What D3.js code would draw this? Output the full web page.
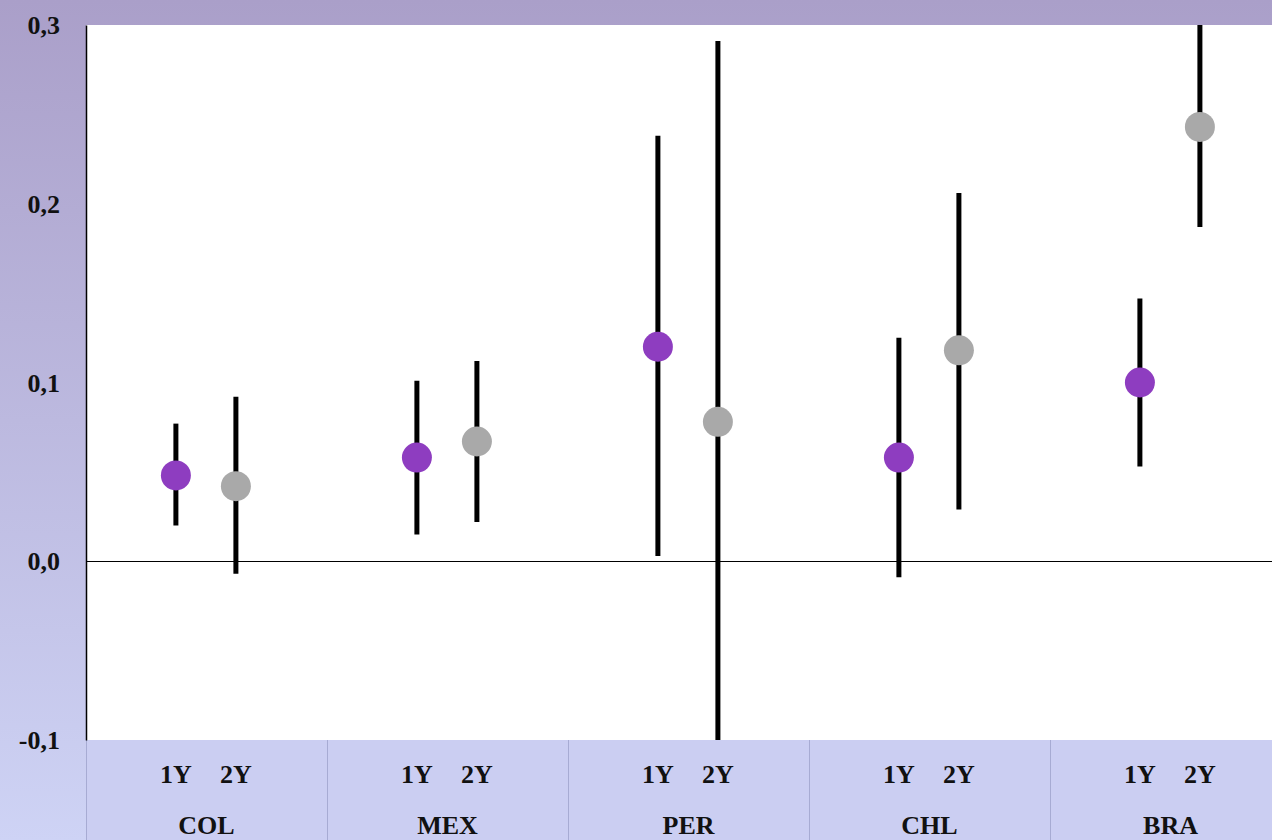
<!DOCTYPE html>
<html><head><meta charset="utf-8">
<script src="https://cdn.jsdelivr.net/npm/d3@7"></script>
<style>html,body{margin:0;padding:0;overflow:hidden;}svg{display:block;}</style>
</head><body>
<script>
const countries = ["COL","MEX","PER","CHL","BRA"];
const horizons = ["1Y","2Y"];
const est1Y = [0.048,0.058,0.120,0.058,0.100];
const lo1Y  = [0.020,0.015,0.003,-0.009,0.053];
const hi1Y  = [0.077,0.101,0.238,0.125,0.147];
const est2Y = [0.042,0.067,0.078,0.118,0.243];
const lo2Y  = [-0.007,0.022,-0.135,0.029,0.187];
const hi2Y  = [0.092,0.112,0.291,0.206,0.310];
const yTicks = [-0.1,0.0,0.1,0.2,0.3];

(function(){
const W=1272,H=840;
const svg=d3.select("body").append("svg").attr("width",W).attr("height",H);
const defs=svg.append("defs");
const g=defs.append("linearGradient").attr("id","bg").attr("x1",0).attr("y1",0).attr("x2",0).attr("y2",1);
g.append("stop").attr("offset","0%").attr("stop-color","#aa9fc9");
g.append("stop").attr("offset","100%").attr("stop-color","#ced3f5");
svg.append("rect").attr("width",W).attr("height",H).attr("fill","url(#bg)");

const mLeft=86, mTop=25, mBottom=740;
const y=d3.scaleLinear().domain([-0.1,0.3]).range([mBottom,mTop]);
const x=d3.scaleBand().domain(countries).range([mLeft,mLeft+5*241]).padding(0);
const xs=d3.scalePoint().domain(horizons).range([0.373,0.622]);

defs.append("clipPath").attr("id","clip").append("rect").attr("x",mLeft).attr("y",mTop).attr("width",W-mLeft).attr("height",mBottom-mTop);

svg.append("rect").attr("x",mLeft).attr("y",mTop).attr("width",W-mLeft).attr("height",mBottom-mTop).attr("fill","#ffffff");
svg.append("rect").attr("x",mLeft).attr("y",mBottom).attr("width",W-mLeft).attr("height",H-mBottom).attr("fill","#cbcef2");
svg.selectAll("line.div").data(countries).join("line").attr("class","div")
  .attr("x1",d=>x(d)+0.5).attr("x2",d=>x(d)+0.5).attr("y1",mBottom).attr("y2",H)
  .attr("stroke","#a7abd3").attr("stroke-width",1);

const plot=svg.append("g").attr("clip-path","url(#clip)");
plot.append("line").attr("x1",mLeft).attr("x2",W).attr("y1",Math.round(y(0))+0.5).attr("y2",Math.round(y(0))+0.5)
  .attr("stroke","#000").attr("stroke-width",1);

const series=[
  {h:"1Y",est:est1Y,lo:lo1Y,hi:hi1Y,color:"#8e3dc0"},
  {h:"2Y",est:est2Y,lo:lo2Y,hi:hi2Y,color:"#a9a9a9"}
];
const px=(c,h)=>x(c)+xs(h)*x.bandwidth();
series.forEach(s=>{
  const data=countries.map((c,i)=>({c,lo:s.lo[i],hi:s.hi[i]}));
  plot.selectAll(null).data(data).join("line")
    .attr("x1",d=>px(d.c,s.h)).attr("x2",d=>px(d.c,s.h))
    .attr("y1",d=>y(d.lo)).attr("y2",d=>y(d.hi))
    .attr("stroke","#000").attr("stroke-width",5);
});
series.forEach(s=>{
  const data=countries.map((c,i)=>({c,est:s.est[i]}));
  plot.selectAll(null).data(data).join("circle")
    .attr("cx",d=>px(d.c,s.h)).attr("cy",d=>y(d.est)).attr("r",15)
    .attr("fill",s.color);
});

const yAxis=d3.axisLeft(y).tickValues(yTicks).tickSize(0).tickPadding(26)
  .tickFormat(d=>d3.format(".1f")(d).replace(".",",").replace("−","-"));
const ya=svg.append("g").attr("transform",`translate(${mLeft},0)`).call(yAxis);
ya.select(".domain").attr("stroke","#000").attr("stroke-width",1.5);
ya.selectAll("text").attr("font-family","'Liberation Serif', serif").attr("font-weight","bold")
  .attr("font-size",26).attr("fill","#111").attr("dy","0.33em");

const fontF="'Liberation Serif', serif";
countries.forEach(c=>{
  horizons.forEach(h=>{
    svg.append("text").attr("x",px(c,h)).attr("y",783).attr("text-anchor","middle")
      .attr("font-family",fontF).attr("font-weight","bold").attr("font-size",26).attr("fill","#111").text(h);
  });
  svg.append("text").attr("x",x(c)+x.bandwidth()/2).attr("y",834).attr("text-anchor","middle")
    .attr("font-family",fontF).attr("font-weight","bold").attr("font-size",26).attr("fill","#111").text(c);
});
})();
</script>
</body></html>
